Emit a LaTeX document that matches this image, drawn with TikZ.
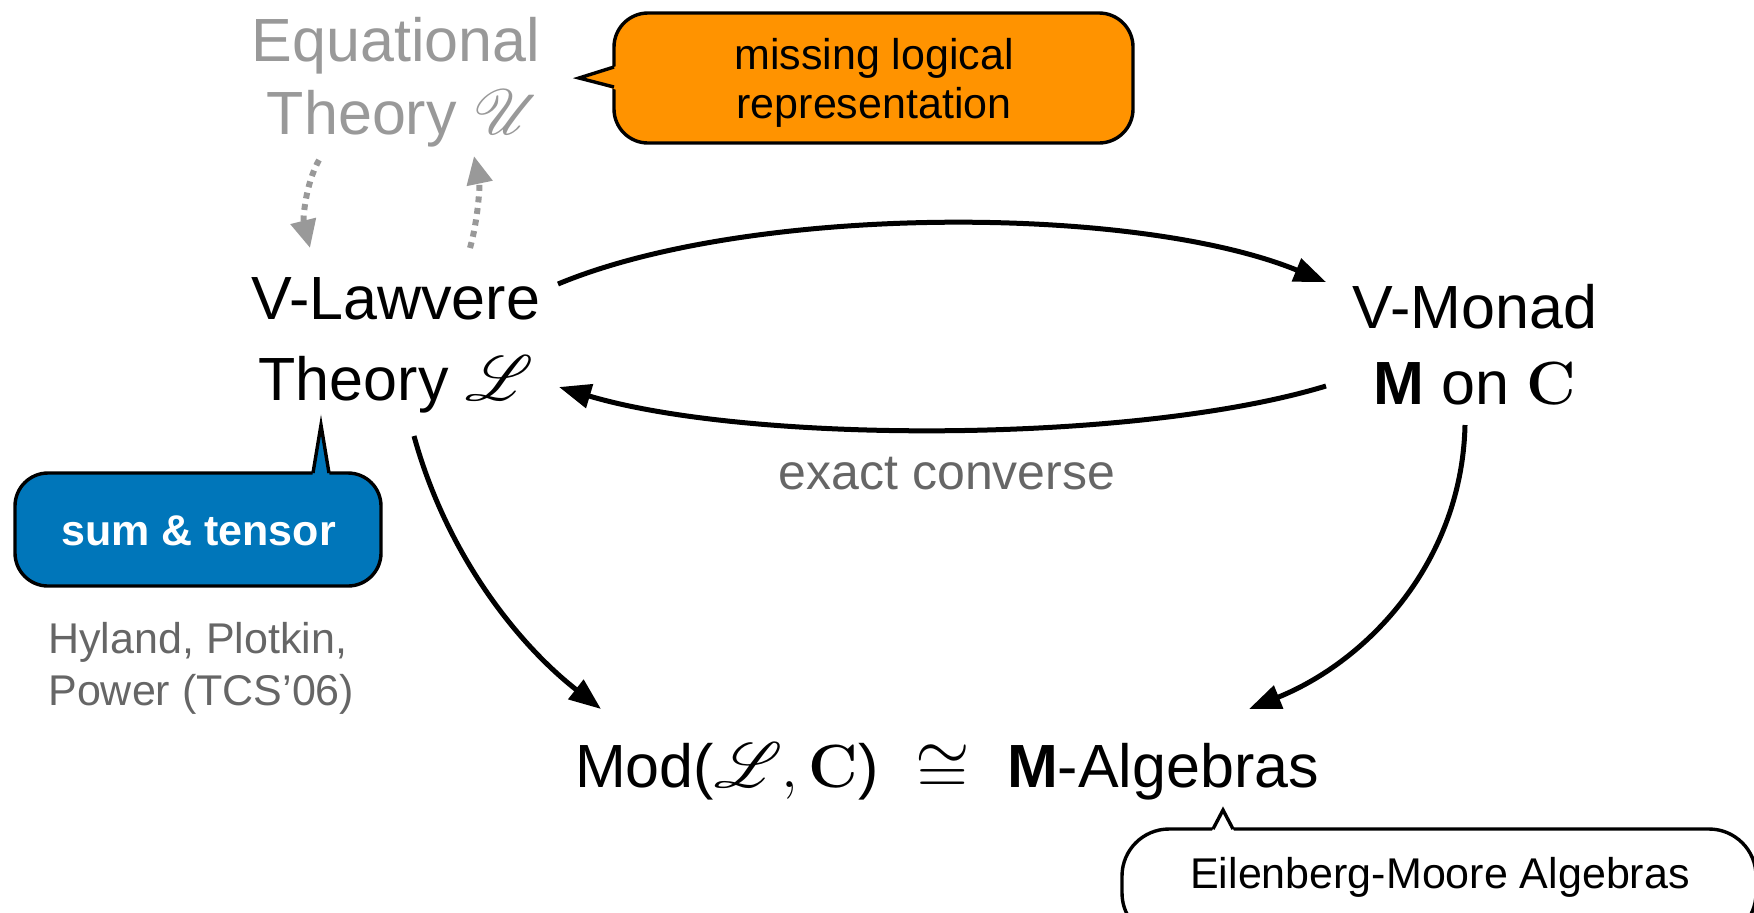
\RequirePackage{fix-cm}
\documentclass[tikz,border=0pt]{standalone}
\usepackage[no-math]{fontspec}
\setmainfont{Liberation Sans}
\usepackage{mathrsfs}
\usepackage{graphicx}
\usetikzlibrary{arrows.meta}
\definecolor{orng}{HTML}{FF9300}
\definecolor{blu}{HTML}{0076BA}
\definecolor{lgray}{HTML}{999999}
\definecolor{dgray}{HTML}{666666}
\newcommand\bigscr[1]{\scalebox{1.28}{$\mathscr{#1}$}}
\begin{document}
\begin{tikzpicture}[x=0.5pt,y=-0.5pt,
  big/.style={font=\fontsize{30.5}{36}\selectfont, inner sep=0pt, anchor=base},
  note/.style={font=\fontsize{21.5}{26}\selectfont, inner sep=0pt, anchor=base},
  arr/.style={line width=2.5pt, -{Triangle[length=16pt,width=12pt]}},
  darr/.style={line width=3pt, draw=lgray, dash pattern=on 3pt off 2.8pt, -{Triangle[length=14pt,width=12.5pt,fill=lgray]}},
  bubble/.style={line width=1.7pt, draw=black, inner sep=0pt}]
\useasboundingbox (0,0) rectangle (1754,912);

% text blocks
\node[big,text=lgray] (eqA) at (396,61) {Equational};
\node[big,text=lgray] (eqB) at (404,134) {Theory \bigscr{U}};
\node[big] (lawA) at (396,319) {V-Lawvere};
\node[big] (lawB) at (396,400) {Theory \bigscr{L}};
\node[big] (monA) at (1475,328) {V-Monad};
\node[big] (monB) at (1475,404) {\textbf{M} on $\mathbf{C}$};
\node[font=\fontsize{25}{30}\selectfont, text=dgray, inner sep=0pt, anchor=base] (conv) at (947,489) {exact converse};
\node[big] (mod) at (947,787) {Mod(\bigscr{L}$,\mathbf{C}$)\hspace{18.5pt}\raisebox{-3pt}{\scalebox{1.15}{$\cong$}}\hspace{18.5pt}\textbf{M}-Algebras};
\node[note,anchor=base west,text=dgray] (hpA) at (48,653) {Hyland, Plotkin,};
\node[note,anchor=base west,text=dgray] (hpB) at (48,705) {Power (TCS'06)};

% orange callout
\node[bubble, fill=orng, rounded corners=17pt, minimum width=259.5pt, minimum height=65pt] (missBox) at (873.5,78) {};
\fill[orng] (579,78) -- (617,66) -- (617,90) -- cycle;
\draw[line width=1.7pt, line join=miter] (614,67) -- (579,78) -- (614,87);
\node[note] (missA) at (874,69) {missing logical};
\node[note] (missB) at (874,118) {representation};

% blue callout
\node[bubble, fill=blu, rounded corners=16.5pt, minimum width=183pt, minimum height=56.5pt] (sumBox) at (198,529.5) {};
\fill[blu] (321,425) -- (312.3,476) -- (329.7,476) -- cycle;
\draw[line width=1.7pt, line join=miter] (313,473) -- (321,425) -- (329,473);
\node[note, font=\fontsize{21.5}{26}\selectfont\bfseries, text=white] (sum) at (198.5,545) {sum \& tensor};

% Eilenberg-Moore callout
\node[bubble, fill=white, rounded corners=23.5pt, minimum width=317pt, minimum height=55.5pt] (emBox) at (1439,884.5) {};
\fill[white] (1223,810) -- (1211.5,832) -- (1234.5,832) -- cycle;
\draw[line width=1.7pt, line join=miter] (1213,829) -- (1223,810) -- (1233,829);
\node[note] (em) at (1440,888) {Eilenberg-Moore Algebras};

% connector end points
\coordinate (a1s) at (558,284);
\coordinate (a1e) at (1326,282);
\coordinate (a2s) at (1326,386);
\coordinate (a2e) at (559,387);
\coordinate (a3s) at (414,436);
\coordinate (a3e) at (601,709);
\coordinate (a4s) at (1465,425);
\coordinate (a4e) at (1249,709);
\coordinate (d1s) at (319,160);
\coordinate (d1e) at (310,248);
\coordinate (d2s) at (470,248);
\coordinate (d2e) at (474,156);

\draw[arr] (a1s) .. controls (750,204) and (1135,204) .. (a1e);
\draw[arr] (a2s) .. controls (1135,444) and (750,444) .. (a2e);
\draw[arr] (a3s) .. controls (447,556) and (519,645) .. (a3e);
\draw[arr] (a4s) .. controls (1462,560) and (1370,660) .. (a4e);
\draw[darr] (d1s) .. controls (305,185) and (303,220) .. (d1e);
\draw[darr] (d2s) .. controls (478,220) and (480,185) .. (d2e);
\end{tikzpicture}
\end{document}
